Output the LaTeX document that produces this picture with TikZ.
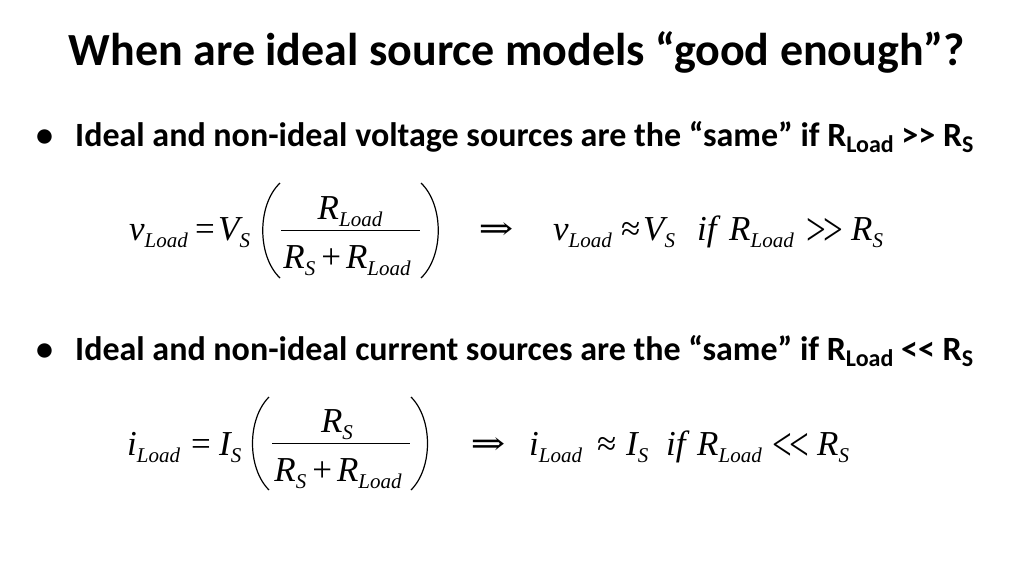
\documentclass[tikz,border=0pt]{standalone}
\usepackage{fontspec}
\setmainfont{Carlito}
\newfontfamily\eqfont{Liberation Serif}
\newfontfamily\arrfont{DejaVu Serif}
\newcommand{\bsub}[1]{\raisebox{-6.5pt}{\fontsize{24}{24}\selectfont #1}}
\newcommand{\esub}[1]{\raisebox{-7.5pt}{\fontsize{21}{21}\selectfont #1}}
\newcommand{\mygg}{\scalebox{1}[1.35]{>\kern-3pt>}}
\newcommand{\myll}{\scalebox{1}[1.35]{<\kern-3pt<}}
\begin{document}
\begin{tikzpicture}[x=1pt,y=-1pt,
  title/.style={font=\bfseries\fontsize{46}{46}\selectfont, inner sep=0, anchor=base},
  bul/.style={font=\bfseries\fontsize{34}{34}\selectfont, inner sep=0, anchor=base west},
  eq/.style={font=\eqfont\itshape\fontsize{35}{35}\selectfont, inner sep=0, anchor=base west},
  eqc/.style={font=\eqfont\itshape\fontsize{35}{35}\selectfont, inner sep=0, anchor=base},
  eqr/.style={font=\eqfont\fontsize{35}{35}\selectfont, inner sep=0, anchor=base west},
  rel/.style={font=\eqfont\fontsize{35}{35}\selectfont, inner sep=0, anchor=center},
  arr/.style={font=\arrfont\fontsize{32}{32}\selectfont, inner sep=0, anchor=center},
  paren/.style={line width=1.2pt},
  bar/.style={line width=0.9pt}]
\useasboundingbox[fill=white] (0,0) rectangle (1024,576);
% title
\node[title] (t) at (517,65) {When are ideal source models “good enough”?};
% bullet 1
\node[bul] (b1) at (36,146) {•};
\node[bul] (l1) at (75,146) {Ideal and non-ideal voltage sources are the “same” if R\bsub{Load} >\kern0pt> R\bsub{S}};
% equation 1
\node[eq] (e1a) at (129,240) {v\esub{Load}};
\node[eqr] (e1b) at (195,240) {=};
\node[eq] (e1c) at (218,240) {V\esub{S}};
\draw[paren] (280,183) .. controls (257,205) and (257,256) .. (280,278);
\node[eqc] (e1n) at (350,219) {R\esub{Load}};
\draw[bar] (281,230) -- (420,230);
\node[eqc] (e1d) at (347,268) {R\esub{S}\hspace{6pt}{\upshape +}\hspace{5pt}R\esub{Load}};
\draw[paren] (421,183) .. controls (444,205) and (444,256) .. (421,278);
\node[arr] (e1i) at (496,231) {\scalebox{1.3}[1]{⇒}};
\node[eq] (e1e) at (553,240) {v\esub{Load}};
\node[eqr] (e1f) at (621,240) {≈};
\node[eq] (e1g) at (643,240) {V\esub{S}};
\node[eq] (e1h) at (697,240) {if};
\node[eq] (e1j) at (729,240) {R\esub{Load}};
\node[rel] (e1k) at (825,232) {\mygg};
\node[eq] (e1l) at (851,240) {R\esub{S}};
% bullet 2
\node[bul] (b2) at (36,360) {•};
\node[bul] (l2) at (75,360) {Ideal and non-ideal current sources are the “same” if R\bsub{Load} <\kern0pt< R\bsub{S}};
% equation 2
\node[eq] (e2a) at (127,455) {i\esub{Load}};
\node[eqr] (e2b) at (191,455) {=};
\node[eq] (e2c) at (219,455) {I\esub{S}};
\draw[paren] (269,397) .. controls (247,419) and (247,468) .. (269,490);
\node[eqc] (e2n) at (337,432) {R\esub{S}};
\draw[bar] (272,443) -- (410,443);
\node[eqc] (e2d) at (338,481) {R\esub{S}\hspace{6pt}{\upshape +}\hspace{5pt}R\esub{Load}};
\draw[paren] (411,397) .. controls (433,419) and (433,468) .. (411,490);
\node[arr] (e2i) at (488,446) {\scalebox{1.3}[1]{⇒}};
\node[eq] (e2e) at (529,455) {i\esub{Load}};
\node[eqr] (e2f) at (597,455) {≈};
\node[eq] (e2g) at (626,455) {I\esub{S}};
\node[eq] (e2h) at (666,455) {if};
\node[eq] (e2j) at (697,455) {R\esub{Load}};
\node[rel] (e2k) at (791,447) {\myll};
\node[eq] (e2l) at (817,455) {R\esub{S}};
\end{tikzpicture}
\end{document}
